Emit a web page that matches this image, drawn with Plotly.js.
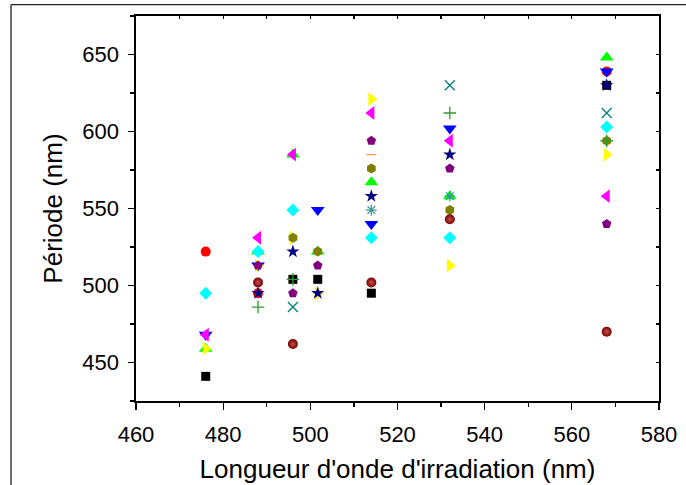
<!DOCTYPE html>
<html>
<head>
<meta charset="utf-8">
<script src="https://cdn.plot.ly/plotly-3.0.1.min.js"></script>
<style>html,body{margin:0;padding:0;background:#fff;}#chart{width:686px;height:485px;}</style>
</head>
<body>
<div id="chart"></div>
<script>
// Irradiation wavelengths (nm)
const wavelengths = [476, 488, 496, 501.7, 514, 532, 568];

// Period values (nm) for each series, one per wavelength (null = no point)
const sBlackSquare   = [441, null, 504, 504, 495, null, 630];
const sRedCircle     = [522, 495, null, null, null, null, 639];
const sGreenUp       = [459, 522, 585, 522, 567, 558, 648];
const sBlueDown      = [468, 513, null, 549, 540, 602, 639];
const sCyanDiamond   = [495, 522, 549, null, 531, 531, 603];
const sMagentaLeft   = [468, 531, 585, null, 612, 594, 558];
const sYellowRight   = [459, 513, 531, 495, 621, 513, 585];
const sOliveHex      = [null, null, 531, 522, 576, 549, 594];
const sNavyStar      = [null, 495, 522, 495, 558, 585, 630];
const sPurplePent    = [null, 513, 495, 513, 594, 576, 540];
const sWineSphere    = [null, 502, 462, null, 502, 543, 470];
const sCyanX         = [null, null, 486, null, null, 630, 612];
const sGreenPlus     = [null, 486, 504, null, null, 612, 594];
const sTealAsterisk  = [null, null, null, null, 549, 558, null];
const sOrangeDash    = [null, null, null, null, 585, null, null];

const seriesList = [
  {y: sBlackSquare,  color: '#000000', symbol: 'square',         size: 9},
  {y: sRedCircle,    color: '#ff0000', symbol: 'circle',         size: 10},
  {y: sGreenUp,      color: '#00ff00', symbol: 'triangle-up',    size: 12},
  {y: sBlueDown,     color: '#0000ff', symbol: 'triangle-down',  size: 12},
  {y: sCyanDiamond,  color: '#00ffff', symbol: 'diamond',        size: 10},
  {y: sMagentaLeft,  color: '#ff00ff', symbol: 'triangle-left',  size: 12},
  {y: sYellowRight,  color: '#ffff00', symbol: 'triangle-right', size: 12},
  {y: sOliveHex,     color: '#808000', symbol: 'hexagon',        size: 10},
  {y: sNavyStar,     color: '#000080', symbol: 'star',           size: 10},
  {y: sPurplePent,   color: '#800080', symbol: 'pentagon',       size: 10},
  {y: sWineSphere,   color: '#7a0000', symbol: 'circle',         size: 10, sphere: true},
  {y: sCyanX,        color: '#008080', symbol: 'x-thin-open',    size: 10, open: true},
  {y: sGreenPlus,    color: '#2f9a2f', symbol: 'cross-thin-open',size: 9, open: true},
  {y: sTealAsterisk, color: '#3a9a9a', symbol: 'asterisk-open',  size: 9, open: true},
  {y: sOrangeDash,   color: '#ff9040', symbol: 'line-ew-open',   size: 7, open: true}
];

const traces = seriesList.map(s => {
  const marker = {symbol: s.symbol, size: s.size, color: s.color,
                  line: {width: s.open ? 1.3 : 0, color: s.color}};
  if (s.sphere) marker.gradient = {type: 'radial', color: '#c05050'};
  return {type: 'scatter', mode: 'markers', x: wavelengths, y: s.y,
          marker: marker, showlegend: false, hoverinfo: 'x+y'};
});

// empty trace to draw mirrored frame axes
traces.push({type: 'scatter', mode: 'markers', x: [], y: [], xaxis: 'x2', yaxis: 'y2', showlegend: false});

const font = "'Liberation Sans', Arial, sans-serif";
const layout = {
  width: 686, height: 485,
  margin: {l: 136, r: 27, t: 16, b: 84},
  paper_bgcolor: '#ffffff', plot_bgcolor: '#ffffff',
  font: {family: font, color: '#000'},
  xaxis: {
    range: [460, 580], dtick: 20, tick0: 460,
    ticks: 'outside', ticklen: 7, tickwidth: 1.3, tickcolor: '#000',
    minor: {dtick: 10, ticklen: 4, tickwidth: 1.3, tickcolor: '#000', ticks: 'outside'},
    showline: true, linecolor: '#000', linewidth: 1.6,
    showgrid: false, zeroline: false,
    tickfont: {size: 22, family: font},
    ticklabelstandoff: 6,
    title: {text: "Longueur d'onde d'irradiation (nm)", font: {size: 26, family: font}, standoff: 14}
  },
  yaxis: {
    range: [425, 675], dtick: 50, tick0: 450,
    ticks: 'outside', ticklen: 6, tickwidth: 1.3, tickcolor: '#000',
    minor: {dtick: 25, ticklen: 4, tickwidth: 1.3, tickcolor: '#000', ticks: 'outside'},
    showline: true, linecolor: '#000', linewidth: 1.6,
    showgrid: false, zeroline: false,
    tickfont: {size: 22, family: font},
    ticklabelstandoff: 5,
    title: {text: 'Période (nm)', font: {size: 26, family: font}, standoff: 12}
  },
  xaxis2: {
    overlaying: 'x', side: 'top', range: [460, 580], dtick: 10, tick0: 460,
    ticks: 'inside', ticklen: 3, tickwidth: 1.2, tickcolor: '#000',
    showticklabels: false, showline: true, linecolor: '#000', linewidth: 1.6,
    showgrid: false, zeroline: false
  },
  yaxis2: {
    overlaying: 'y', side: 'right', range: [425, 675], dtick: 25, tick0: 450,
    ticks: 'inside', ticklen: 3, tickwidth: 1.2, tickcolor: '#000',
    showticklabels: false, showline: true, linecolor: '#000', linewidth: 1.6,
    showgrid: false, zeroline: false
  },
  shapes: [
    {type: 'line', xref: 'paper', yref: 'paper', x0: -0.239, x1: 1.06, y0: 1.0294, y1: 1.0294,
     line: {color: '#222', width: 1.3}},
    {type: 'line', xref: 'paper', yref: 'paper', x0: -0.239, x1: -0.239, y0: 1.0294, y1: -0.23,
     line: {color: '#222', width: 1.3}}
  ]
};

Plotly.newPlot('chart', traces, layout, {displayModeBar: false, staticPlot: true});
</script>
</body>
</html>
